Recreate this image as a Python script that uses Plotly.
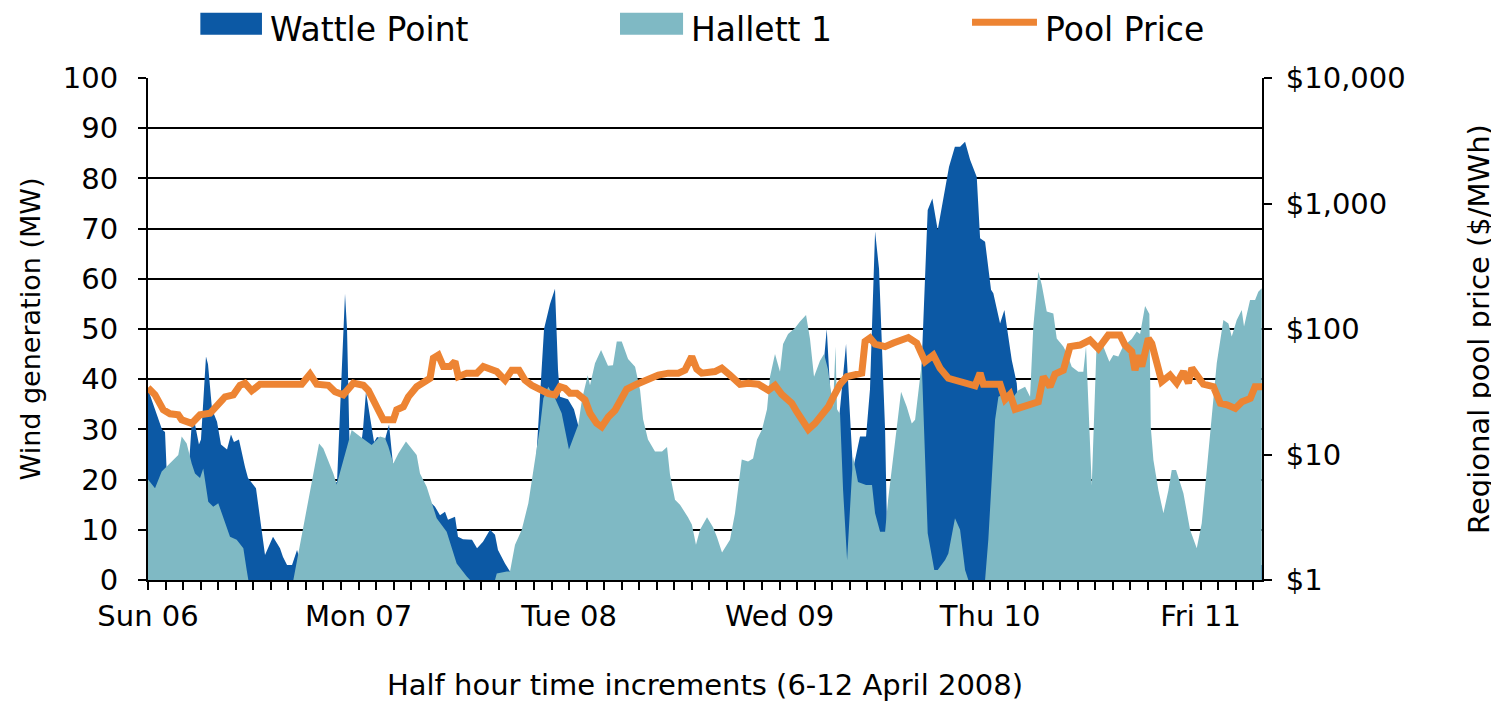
import plotly.graph_objects as go

# ---------------- data ----------------
day_labels = ["Sun 06", "Mon 07", "Tue 08", "Wed 09", "Thu 10", "Fri 11"]
day_hours = [0, 24, 48, 72, 96, 120]

price_tick_values = [1, 10, 100, 1000, 10000]
price_tick_labels = ["$1", "$10", "$100", "$1,000", "$10,000"]

# hours since Sun 06 00:00
wattle_hours = [0.0, 0.57, 1.14, 1.60, 1.94, 2.17, 4.56, 5.02, 5.36, 5.81,
                6.04, 6.61, 6.84, 7.30, 7.87, 8.32, 9.01, 9.46, 9.80, 10.37,
                11.06, 11.40, 12.31, 12.77, 13.34, 14.25, 15.05, 15.39, 15.85, 16.42,
                16.99, 17.67, 20.75, 21.55, 22.46, 22.69, 23.03, 24.17, 24.51, 24.85,
                25.31, 25.77, 26.11, 27.02, 27.48, 27.93, 28.73, 31.01, 31.92, 32.72,
                33.29, 33.86, 34.20, 35.0, 35.34, 35.91, 36.94, 37.51, 38.19, 38.99,
                39.56, 39.90, 40.70, 41.27, 41.84, 43.55, 44.12, 44.46, 44.81, 45.15,
                45.83, 46.40, 46.74, 46.97, 47.88, 48.56, 49.02, 49.37, 50.39, 57.23,
                62.93, 65.44, 67.49, 74.33, 76.61, 77.38, 77.76, 78.21, 78.67, 79.58, 80.37,
                81.17, 81.86, 82.31, 82.89, 83.34, 83.80, 84.03, 84.25, 85.73, 87.45,
                88.13, 88.89, 89.42, 90.03, 90.67, 91.32, 91.99, 92.58, 93.15, 93.72,
                94.48, 94.86, 95.43, 96.11, 96.37, 97.14, 97.63, 98.08, 98.47, 99.04,
                99.42, 100.56, 101.70, 127.0]
wattle_mw = [38, 35, 32, 30, 29.5, 20, 20, 32, 31, 27,
             28, 44.5, 43, 34, 31.5, 27, 26, 29, 27.5, 28,
             22.5, 20.3, 18.3, 12, 5, 8.6, 6.3, 4.6, 3, 3,
             6, 2, 19, 19.5, 57, 50, 22.6, 25, 30, 37.5,
             32, 27.5, 28.5, 28, 31, 23, 20, 18, 16, 14.6,
             12.9, 13.6, 12, 12.6, 8.6, 8.1, 8, 6.3, 7.6, 10,
             9, 6, 3.3, 1.7, 1, 10, 20, 30, 38, 50,
             55, 58, 42, 36.5, 36, 34, 31, 28, 20, 10,
             3, 3, 10, 30, 35, 50, 38, 30, 30, 47, 22,
             28.6, 28.6, 38, 69.4, 62, 38, 30, 10, 20, 25,
             40, 73.7, 76, 69.7, 76.4, 82.3, 86.3, 86.3, 87.3, 83.7,
             80.3, 68.1, 67.4, 57.8, 57.1, 51.1, 53.8, 48.5, 43.8, 39.2,
             30, 10, 3, 3]

hallett_hours = [0.0, 0.80, 1.56, 2.51, 3.45, 3.84, 4.41, 4.98, 5.36, 5.93,
                 6.30, 6.87, 7.44, 8.01, 8.58, 9.35, 10.11, 10.87, 11.25, 11.44,
                 16.57, 17.71, 18.47, 19.50, 19.99, 21.13, 21.51, 23.22, 24.17, 24.93,
                 25.50, 26.45, 27.02, 27.40, 27.97, 28.54, 29.41, 30.63, 31.01, 31.77,
                 32.34, 32.91, 34.05, 35.19, 36.34, 36.71, 39.56, 39.76, 40.90, 41.27,
                 41.84, 42.61, 43.36, 44.12, 44.69, 45.07, 45.64, 46.40, 47.16, 47.99,
                 48.67, 49.06, 49.48, 50.13, 50.39, 50.96, 51.65, 52.44, 53.01, 53.44,
                 54.01, 54.73, 55.53, 56.10, 56.44, 57.00, 57.80, 58.60, 59.17, 59.51,
                 60.08, 60.65, 61.56, 62.01, 62.47, 62.93, 63.73, 64.42, 64.87, 65.44,
                 66.35, 66.92, 67.69, 68.41, 68.98, 69.43, 70.0, 70.57, 70.91, 71.48,
                 72.05, 72.40, 72.97, 73.76, 74.33, 75.02, 75.47, 75.93, 76.61, 77.07,
                 77.52, 77.87, 78.10, 78.38, 78.55, 78.90, 79.24, 79.70, 80.37, 80.94,
                 81.86, 82.54, 82.89, 83.46, 84.03, 84.37, 85.17, 85.85, 86.50, 87.07,
                 87.45, 87.82, 88.21, 88.89, 89.64, 90.03, 90.87, 91.24, 92.0, 92.58,
                 93.15, 93.52, 95.43, 95.80, 96.19, 96.57, 96.95, 97.71, 98.47, 99.23,
                 99.99, 100.56, 100.93, 101.50, 101.89, 102.46, 103.21, 103.60, 104.35, 104.74,
                 105.31, 106.06, 106.63, 106.94, 107.59, 108.14, 108.91, 109.60, 110.05, 110.62,
                 111.16, 112.15, 112.72, 113.10, 113.67, 114.16, 114.32, 114.62, 115.19, 115.76,
                 116.33, 116.71, 117.20, 118.04, 118.80, 119.56, 120.13, 120.70, 121.27, 121.84,
                 122.60, 123.17, 123.55, 124.12, 124.69, 124.95, 125.64, 126.21, 126.58, 126.97]
hallett_mw = [20, 18.3, 21.6, 23.2, 24.9, 28.6, 27.2, 23.2, 21.2, 20.3,
              22.2, 15.6, 14.6, 15.3, 12.6, 8.6, 8, 6.3, 2, 0,
              0, 10.6, 17.3, 27.2, 26.2, 21.2, 19, 29.9, 28.6, 27.6,
              26.9, 28.6, 28.3, 26.6, 23.2, 25.2, 27.6, 24.9, 21.2, 18.6,
              15.3, 12.3, 9.6, 3.3, 0.7, 0, 0, 1.3, 1.7, 1.7,
              7, 10, 15.3, 23.9, 30.5, 36.2, 38.5, 36.2, 33.2, 26,
              29.2, 31, 36, 40.8, 38.8, 43.2, 45.8, 42.7, 42.8, 47.5,
              47.5, 44, 42.5, 37.8, 32, 28, 25.6, 25.6, 26.5, 21,
              16, 15, 12.5, 11, 7, 10, 12.5, 10.5, 8.5, 5.5,
              8, 13.3, 24, 23.6, 24.2, 28, 30, 34, 40.5, 45,
              41.5, 47, 49, 50.2, 51.5, 52.8, 48, 40.5, 43.7, 45,
              42, 37.2, 34.5, 46.5, 34, 33, 18, 4, 24.6, 19.5,
              18.9, 18.9, 13.3, 9.6, 9.6, 15.9, 27.9, 37.5, 34.5, 31.2,
              31.9, 37.2, 43.2, 9.3, 2, 2, 4, 5.3, 12.3, 10,
              2, 0, 0, 8, 19.9, 31.9, 36.5, 37.2, 36, 37.8,
              38.5, 36.5, 50.5, 61.4, 58.8, 53.5, 53.1, 48.1, 46.5, 45.2,
              42.5, 41.5, 41.5, 46.5, 18.8, 46.8, 46.5, 43.5, 44.8, 44.5,
              46.5, 48, 49.5, 49, 54.6, 53, 30.5, 23.9, 17.9, 13.3,
              17.9, 21.9, 21.9, 17.3, 10, 6.3, 11.3, 22.6, 32.5, 43.2,
              51.8, 51.1, 48.5, 51.8, 53.8, 50.5, 55.8, 55.8, 57.4, 58.1]

price_hours = [0.0, 0.80, 1.74, 2.51, 3.45, 3.84, 4.98, 5.93, 7.07, 8.01,
               8.78, 9.73, 10.49, 11.06, 11.82, 12.77, 17.52, 18.47, 19.23, 20.56,
               21.32, 22.27, 23.41, 24.55, 25.12, 26.07, 26.83, 27.97, 28.35, 29.11,
               29.68, 30.63, 31.39, 32.15, 32.53, 33.10, 33.67, 34.43, 35.00, 35.38,
               36.34, 37.48, 38.23, 39.76, 40.70, 41.47, 42.30, 42.98, 43.75, 44.69,
               45.64, 46.40, 46.97, 47.54, 48.11, 48.88, 49.82, 50.39, 51.15, 51.72,
               52.47, 53.24, 53.81, 54.57, 55.71, 56.86, 58.18, 59.32, 60.46, 61.22,
               61.99, 62.56, 63.13, 64.64, 65.41, 66.35, 67.49, 68.44, 69.58, 70.72,
               71.48, 72.25, 73.39, 73.96, 74.71, 75.28, 76.04, 76.81, 77.56, 78.13,
               78.90, 79.66, 80.80, 81.37, 81.75, 82.31, 82.89, 84.03, 84.97, 85.93,
               86.68, 87.64, 88.21, 88.59, 89.53, 90.29, 91.24, 92.38, 93.52, 94.29,
               94.86, 95.24, 96.19, 97.14, 97.71, 98.28, 98.85, 99.61, 100.75, 101.50,
               102.07, 102.83, 103.40, 104.35, 105.11, 106.25, 107.39, 108.34, 109.48, 110.81,
               111.38, 112.15, 112.52, 112.90, 113.29, 114.04, 114.43, 115.00, 115.57, 116.52,
               117.28, 118.04, 118.61, 119.00, 119.75, 120.32, 121.46, 122.25, 123.01, 123.96,
               124.72, 125.67, 126.21, 127.0]
price_dollars = [34.0, 29.9, 22.7, 21.1, 20.7, 18.9, 17.7, 20.7, 21.3, 25.6,
                 28.8, 29.9, 35.6, 37.0, 32.2, 36.3, 36.3, 43.7, 36.3, 35.6,
                 31.6, 29.9, 37.0, 35.6, 32.5, 24.0, 18.9, 18.9, 22.7, 24.0,
                 28.8, 34.7, 37.0, 40.5, 58.6, 61.9, 50.2, 50.2, 55.0, 41.7,
                 44.5, 44.5, 50.2, 45.8, 39.1, 47.0, 47.0, 39.1, 35.6, 32.5,
                 30.5, 29.9, 34.7, 33.7, 30.8, 30.8, 27.2, 21.3, 17.7, 16.6,
                 19.9, 22.5, 27.0, 33.1, 36.3, 39.8, 42.9, 44.5, 44.5, 47.0,
                 60.2, 47.9, 44.5, 45.8, 48.8, 42.9, 36.3, 37.0, 36.3, 32.5,
                 35.6, 30.2, 25.6, 21.9, 18.7, 15.85, 17.7, 20.9, 24.0, 28.8,
                 36.3, 41.7, 42.9, 44.5, 79.5, 84.7, 75.9, 72.4, 77.3, 81.7,
                 85.5, 77.3, 60.2, 55.0, 61.9, 48.8, 40.5, 38.0, 36.3, 35.3,
                 44.5, 36.3, 36.3, 36.3, 27.5, 30.2, 22.9, 24.0, 25.1, 26.3,
                 41.7, 34.7, 43.7, 47.0, 72.4, 74.5, 81.7, 69.8, 89.5, 89.5,
                 74.5, 66.1, 47.0, 61.9, 50.2, 84.0, 76.6, 50.2, 38.0, 42.9,
                 37.0, 45.8, 37.0, 48.8, 40.5, 36.3, 34.7, 25.6, 24.9, 23.3,
                 26.3, 28.0, 34.7, 34.7]

# ---------------- styling ----------------
DARK_BLUE = "#0C59A5"
LIGHT_BLUE = "#7FB9C4"
ORANGE = "#ED8433"
FONT = "DejaVu Sans"

fig = go.Figure()
fig.add_trace(go.Scatter(x=wattle_hours, y=wattle_mw, name="Wattle Point",
                         mode="lines", line=dict(width=0, color=DARK_BLUE),
                         fill="tozeroy", fillcolor=DARK_BLUE, hoverinfo="x+y"))
fig.add_trace(go.Scatter(x=hallett_hours, y=hallett_mw, name="Hallett 1",
                         mode="lines", line=dict(width=0, color=LIGHT_BLUE),
                         fill="tozeroy", fillcolor=LIGHT_BLUE, hoverinfo="x+y"))
fig.add_trace(go.Scatter(x=price_hours, y=price_dollars, name="Pool Price", yaxis="y2",
                         mode="lines", line=dict(width=7, color=ORANGE)))

axis_common = dict(ticks="outside", ticklen=8, tickwidth=2, tickcolor="black",
                   showline=True, linecolor="black", linewidth=2, zeroline=False,
                   automargin=False)

# the page body adds an 8px offset, so the figure is placed 8px up/left
fig.update_layout(
    width=1491, height=701,
    margin=dict(l=140, r=237, t=70, b=129),
    paper_bgcolor="white", plot_bgcolor="white",
    font=dict(family=FONT, size=29, color="black"),
    showlegend=False,
    xaxis=dict(range=[0, 127], tickvals=day_hours, ticktext=day_labels,
               showgrid=False, ticklabelstandoff=1,
               minor=dict(tickvals=list(range(0, 128, 2)), ticks="outside", ticklen=8,
                          tickwidth=2, tickcolor="black", showgrid=False),
               title=dict(text="Half hour time increments (6-12 April 2008)",
                          font=dict(size=29), standoff=43),
               **axis_common),
    yaxis=dict(range=[0, 100], tick0=0, dtick=10, showgrid=True, gridcolor="black",
               gridwidth=2, ticklabelstandoff=14,
               title=dict(text="Wind generation (MW)", font=dict(size=27), standoff=14),
               **axis_common),
    yaxis2=dict(overlaying="y", side="right", type="log", range=[0, 4],
                tickvals=price_tick_values, ticktext=price_tick_labels,
                showgrid=False, ticklabelstandoff=8,
                title=dict(text="Regional pool price ($/MWh)", font=dict(size=29), standoff=64),
                **axis_common),
)

# legend drawn as swatches + text above the plot
legend_items = [("Wattle Point", DARK_BLUE, "box", 0.047, 0.1023),
                ("Hallett 1", LIGHT_BLUE, "box", 0.4237, 0.4803),
                ("Pool Price", ORANGE, "line", 0.7397, 0.7980)]
for label, color, kind, x0, x1 in legend_items:
    if kind == "box":
        fig.add_shape(type="rect", xref="paper", yref="paper", x0=x0, x1=x1,
                      y0=1.086, y1=1.13, fillcolor=color, line=dict(width=0))
    else:
        fig.add_shape(type="line", xref="paper", yref="paper", x0=x0, x1=x1,
                      y0=1.111, y1=1.111, line=dict(color=color, width=7))
    fig.add_annotation(text=label, xref="paper", yref="paper", x=x1 + 0.005, y=1.097,
                       xanchor="left", yanchor="middle", showarrow=False,
                       font=dict(family=FONT, size=33, color="black"))

fig.write_html("out.html")
